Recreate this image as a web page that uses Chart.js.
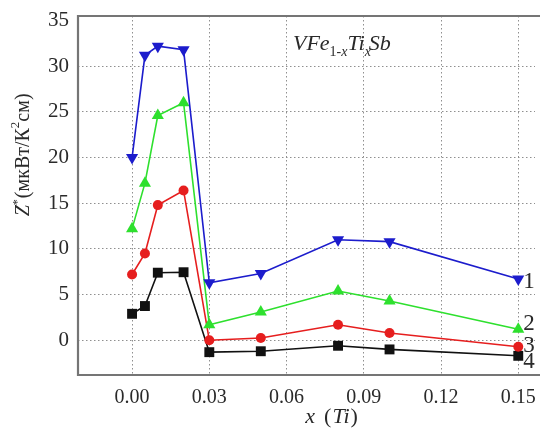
<!DOCTYPE html>
<html><head><meta charset="utf-8">
<script src="https://cdn.jsdelivr.net/npm/chart.js@4"></script>
<style>html,body{margin:0;padding:0;background:#fff;overflow:hidden}#wrap{width:542px;height:428px;position:relative}</style>
</head><body><div id="wrap"><canvas id="c" width="542" height="428"></canvas></div>
<script>
// ---- data ----
const xValues = [0, 0.005, 0.01, 0.02, 0.03, 0.05, 0.08, 0.10, 0.15];
const series1 = [20.0, 31.2, 32.2, 31.8, 6.3, 7.3, 11.0, 10.8, 6.7];
const series2 = [12.2, 17.2, 24.6, 26.0, 1.7, 3.1, 5.4, 4.3, 1.2];
const series3 = [7.2, 9.5, 14.8, 16.4, 0.0, 0.25, 1.7, 0.8, -0.7];
const series4 = [2.9, 3.75, 7.4, 7.45, -1.3, -1.2, -0.6, -1.0, -1.7];
const seriesLabels = ['1', '2', '3', '4'];
const xTicks = [0, 0.03, 0.06, 0.09, 0.12, 0.15];
const yTicks = [0, 5, 10, 15, 20, 25, 30, 35];

const SERIF = '"Liberation Serif", "Times New Roman", serif';
const TXT = '#2a2a2a';

function pts(arr) { return xValues.map((x, i) => ({ x: x, y: arr[i] })); }

const styles = [
  { color: '#1c1ccc', marker: 'triangle', rot: 180, r: 7 },
  { color: '#2ee02e', marker: 'triangle', rot: 0, r: 7 },
  { color: '#e61e1e', marker: 'circle', rot: 0, r: 5 },
  { color: '#111111', marker: 'rect', rot: 0, r: 7 }
];
const allSeries = [series1, series2, series3, series4];

const datasets = allSeries.map((s, i) => ({
  label: seriesLabels[i],
  data: pts(s),
  borderColor: styles[i].color,
  backgroundColor: styles[i].color,
  borderWidth: 1.6,
  pointStyle: styles[i].marker,
  rotation: styles[i].rot,
  pointRadius: styles[i].r,
  pointBorderWidth: 0,
  tension: 0,
  clip: false
}));

function richText(ctx, x, y, segs, align) {
  let w = 0;
  segs.forEach(s => { ctx.font = s.font; w += ctx.measureText(s.t).width + (s.gap || 0); });
  let cx = align === 'center' ? x - w / 2 : x;
  segs.forEach(s => {
    ctx.font = s.font;
    ctx.fillText(s.t, cx, y + (s.dy || 0));
    cx += ctx.measureText(s.t).width + (s.gap || 0);
  });
}

const decor = {
  id: 'decor',
  afterDraw(chart) {
    const ctx = chart.ctx;
    const a = chart.chartArea;
    const xs = chart.scales.x, ys = chart.scales.y;
    ctx.save();
    // frame
    ctx.strokeStyle = '#757575';
    ctx.lineWidth = 2.2;
    ctx.beginPath();
    ctx.moveTo(a.right + 5, a.top);
    ctx.lineTo(a.left, a.top);
    ctx.lineTo(a.left, a.bottom);
    ctx.lineTo(a.right + 5, a.bottom);
    ctx.stroke();

    ctx.fillStyle = TXT;
    ctx.textBaseline = 'alphabetic';
    // inner title
    const it = 'italic 22px ' + SERIF, sub = 'italic 14px ' + SERIF, subU = '14px ' + SERIF;
    richText(ctx, xs.getPixelForValue(0.0625), 50, [
      { t: 'VFe', font: it },
      { t: '1-', font: subU, dy: 6 },
      { t: 'x', font: sub, dy: 6 },
      { t: 'Ti', font: it },
      { t: 'x', font: sub, dy: 6, gap: -2 },
      { t: 'Sb', font: it }
    ], 'left');

    // x title
    richText(ctx, xs.getPixelForValue(0.0775), 423, [
      { t: 'x', font: 'italic 22px ' + SERIF, gap: 9 },
      { t: '(', font: '22px ' + SERIF, gap: 1 },
      { t: 'Ti', font: 'italic 22px ' + SERIF, gap: 1 },
      { t: ')', font: '22px ' + SERIF }
    ], 'center');

    // y title (rotated)
    ctx.save();
    ctx.translate(29, ys.getPixelForValue(20.3));
    ctx.rotate(-Math.PI / 2);
    richText(ctx, 0, 0, [
      { t: 'Z', font: 'italic 20px ' + SERIF },
      { t: '*', font: '12px ' + SERIF, dy: -8, gap: 1 },
      { t: '(мкВт/К', font: '20px ' + SERIF },
      { t: '2', font: '13px ' + SERIF, dy: -10 },
      { t: 'см)', font: '20px ' + SERIF }
    ], 'center');
    ctx.restore();

    // curve labels
    const offs = [3, -5, -1, 6];
    ctx.font = '23px ' + SERIF;
    ctx.textBaseline = 'middle';
    ctx.textAlign = 'left';
    allSeries.forEach((s, i) => {
      const n = s.length - 1;
      ctx.fillText(seriesLabels[i], xs.getPixelForValue(xValues[n]) + 5, ys.getPixelForValue(s[n]) + offs[i]);
    });
    ctx.restore();
  }
};

new Chart(document.getElementById('c'), {
  type: 'line',
  data: { datasets: datasets },
  options: {
    responsive: false,
    animation: false,
    devicePixelRatio: 1,
    layout: { padding: { top: 16, right: 0, left: 0, bottom: 0 } },
    plugins: { legend: { display: false }, tooltip: { enabled: false } },
    scales: {
      x: {
        type: 'linear',
        min: -0.021,
        max: 0.1565,
        afterBuildTicks: s => { s.ticks = xTicks.map(v => ({ value: v })); },
        afterFit: s => { s.height = 53; s.paddingLeft = 0; s.paddingRight = 0; },
        grid: { color: '#8f8f8f', lineWidth: 1, drawTicks: false },
        border: { display: false, dash: [1.5, 2.5] },
        ticks: {
          padding: 11,
          color: TXT,
          font: { family: SERIF, size: 20 },
          maxRotation: 0,
          autoSkip: false,
          callback: v => v.toFixed(2)
        }
      },
      y: {
        type: 'linear',
        min: -3.8,
        max: 35.5,
        afterBuildTicks: s => { s.ticks = yTicks.map(v => ({ value: v })); },
        afterFit: s => { s.width = 78; s.paddingTop = 0; s.paddingBottom = 0; },
        grid: {
          color: c => (c.tick && c.tick.value === 35) ? 'rgba(0,0,0,0)' : '#8f8f8f',
          lineWidth: 1, drawTicks: false
        },
        border: { display: false, dash: [1.5, 2.5] },
        ticks: {
          padding: 9,
          color: TXT,
          font: { family: SERIF, size: 21 },
          autoSkip: false,
          callback: v => String(v)
        }
      }
    }
  },
  plugins: [decor]
});
</script>
</body></html>
